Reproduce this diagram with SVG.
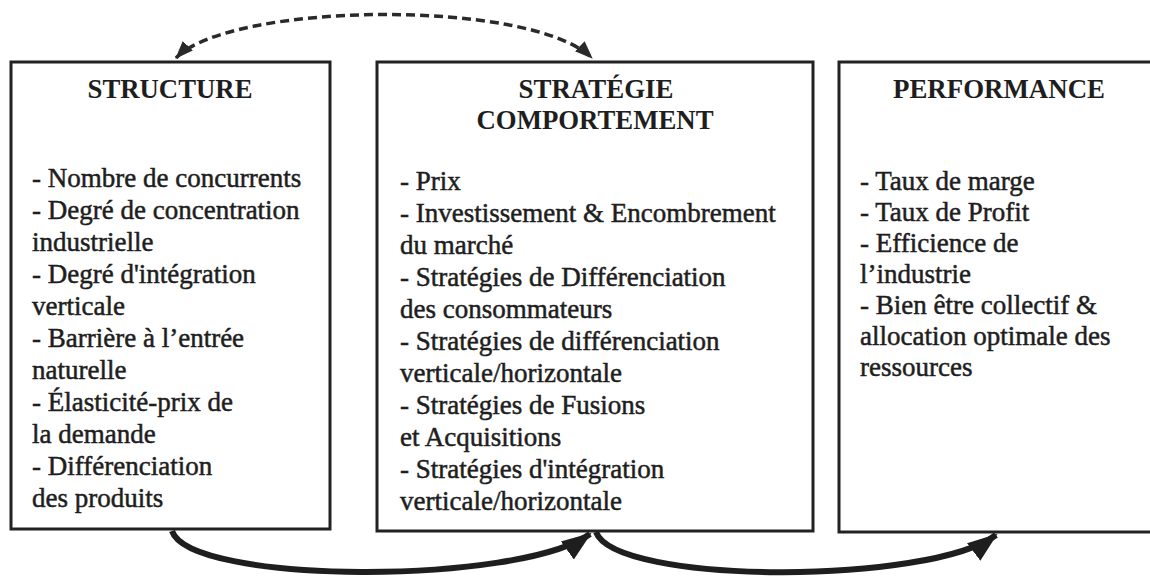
<svg xmlns="http://www.w3.org/2000/svg" width="1150" height="577" viewBox="0 0 1150 577">
<style>
.box{fill:#fff;stroke:#222;stroke-width:3}
.title{font-family:"Liberation Serif",serif;font-weight:bold;font-size:27px;fill:#1e1e1e;text-anchor:middle}
.body{font-family:"Liberation Serif",serif;font-size:27px;fill:#1e1e1e;stroke:#1e1e1e;stroke-width:0.5}
.dash{fill:none;stroke:#2a2a2a;stroke-width:3.5;stroke-dasharray:9 5}
.solid{fill:none;stroke:#1e1e1e;stroke-width:6}
</style>
<defs>
<marker id="headS" markerUnits="userSpaceOnUse" markerWidth="32" markerHeight="32" viewBox="0 0 32 32" refX="28" refY="16" orient="auto">
<path d="M0,5 L30,16 L0,27 Z" fill="#1e1e1e"/>
</marker>
<marker id="headD" markerUnits="userSpaceOnUse" markerWidth="20" markerHeight="20" viewBox="0 0 20 20" refX="17" refY="10" orient="auto">
<path d="M0,3 L18,10 L0,17 Z" fill="#2a2a2a"/>
</marker>
<marker id="headDs" markerUnits="userSpaceOnUse" markerWidth="20" markerHeight="20" viewBox="0 0 20 20" refX="3" refY="10" orient="auto">
<path d="M20,3 L2,10 L20,17 Z" fill="#2a2a2a"/>
</marker>
</defs>
<rect width="1150" height="577" fill="#fff"/>
<g id="structure">
<rect class="box" x="11" y="62" width="319" height="467"/>
<text class="title" x="170" y="98" textLength="165" lengthAdjust="spacingAndGlyphs">STRUCTURE</text>
<text class="body" x="32" y="187">- Nombre de concurrents</text>
<text class="body" x="32" y="219">- Degré de concentration</text>
<text class="body" x="32" y="251">industrielle</text>
<text class="body" x="32" y="283">- Degré d'intégration</text>
<text class="body" x="32" y="315">verticale</text>
<text class="body" x="32" y="347">- Barrière à l’entrée</text>
<text class="body" x="32" y="379">naturelle</text>
<text class="body" x="32" y="411">- Élasticité-prix de</text>
<text class="body" x="32" y="443">la demande</text>
<text class="body" x="32" y="475">- Différenciation</text>
<text class="body" x="32" y="507">des produits</text>
</g>
<g id="strategie">
<rect class="box" x="377" y="62" width="436" height="469"/>
<text class="title" x="596" y="98" textLength="155" lengthAdjust="spacingAndGlyphs">STRATÉGIE</text>
<text class="title" x="595" y="129" textLength="237" lengthAdjust="spacingAndGlyphs">COMPORTEMENT</text>
<text class="body" x="400" y="190">- Prix</text>
<text class="body" x="400" y="222">- Investissement &amp; Encombrement</text>
<text class="body" x="400" y="254">du marché</text>
<text class="body" x="400" y="286">- Stratégies de Différenciation</text>
<text class="body" x="400" y="318">des consommateurs</text>
<text class="body" x="400" y="350">- Stratégies de différenciation</text>
<text class="body" x="400" y="382">verticale/horizontale</text>
<text class="body" x="400" y="414">- Stratégies de Fusions</text>
<text class="body" x="400" y="446">et Acquisitions</text>
<text class="body" x="400" y="478">- Stratégies d'intégration</text>
<text class="body" x="400" y="510">verticale/horizontale</text>
</g>
<g id="performance">
<rect class="box" x="839" y="62" width="320" height="470"/>
<text class="title" x="999" y="98" textLength="212" lengthAdjust="spacingAndGlyphs">PERFORMANCE</text>
<text class="body" x="860" y="190">- Taux de marge</text>
<text class="body" x="860" y="221">- Taux de Profit</text>
<text class="body" x="860" y="252">- Efficience de</text>
<text class="body" x="860" y="283">l’industrie</text>
<text class="body" x="860" y="314">- Bien être collectif &amp;</text>
<text class="body" x="860" y="345">allocation optimale des</text>
<text class="body" x="860" y="376">ressources</text>
</g>
<g id="connectors">
<path class="dash" d="M176,58 C230,2 530,-2 592,58" marker-start="url(#headDs)" marker-end="url(#headD)"/>
<path class="solid" d="M172,531 C190,585 520,585 590,534" marker-end="url(#headS)"/>
<path class="solid" d="M596,532 C615,585 930,585 996,535" marker-end="url(#headS)"/>
</g>
</svg>
